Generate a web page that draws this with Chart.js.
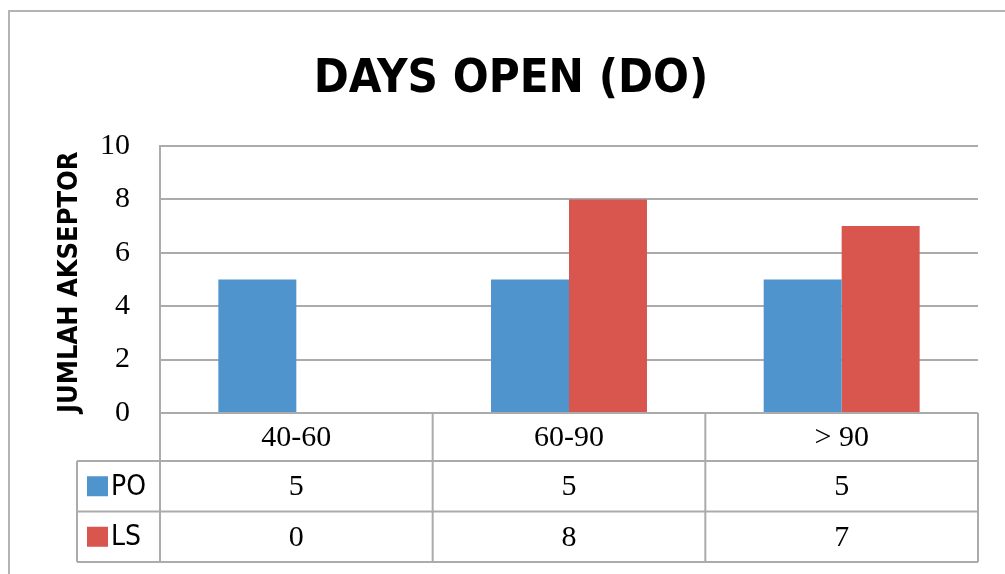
<!DOCTYPE html>
<html>
<head>
<meta charset="utf-8">
<script src="https://cdn.jsdelivr.net/npm/chart.js@4"></script>
<style>
  body { margin: 0; background: #fff; }
  canvas { display: block; }
</style>
</head>
<body>
<canvas id="doChart" width="1005" height="574"></canvas>
<script>
// chart data
const categories = ['40-60', '60-90', '> 90'];
const seriesNames = ['PO', 'LS'];
const poValues = [5, 5, 5];
const lsValues = [0, 8, 7];
const yTicks = [0, 2, 4, 6, 8, 10];

const BLUE = '#4F94CD';
const RED = '#D9564F';
const GRID = '#ABABAB';
const SANS = "'Liberation Sans Narrow', 'DejaVu Sans Condensed', sans-serif";
const SERIF = "'Liberation Serif', 'DejaVu Serif', serif";

// draws the outer frame and the Excel style data table under the plot
const dataTablePlugin = {
  id: 'dataTable',
  beforeDraw(chart) {
    const ctx = chart.ctx;
    ctx.save();
    ctx.strokeStyle = '#B4B4B4';
    ctx.lineWidth = 2;
    ctx.beginPath();
    ctx.moveTo(9, chart.height + 5);
    ctx.lineTo(9, 11);
    ctx.lineTo(chart.width + 5, 11);
    ctx.stroke();
    ctx.restore();
  },
  afterDraw(chart) {
    const ctx = chart.ctx;
    const area = chart.chartArea;
    const x = chart.scales.x;
    const colW = (area.right - area.left) / categories.length;
    const headH = 48;
    const rowH = 50.5;
    const legendLeft = 77;
    const top = area.bottom;
    const rowsTop = top + headH;
    const bottom = rowsTop + rowH * seriesNames.length;
    const rows = [poValues, lsValues];
    const colors = [BLUE, RED];

    ctx.save();
    ctx.strokeStyle = GRID;
    ctx.lineWidth = 2;
    ctx.beginPath();
    // axis / top line of the table
    ctx.moveTo(area.left, top);
    ctx.lineTo(area.right, top);
    for (let r = 0; r <= seriesNames.length; r++) {
      const yy = rowsTop + r * rowH;
      ctx.moveTo(legendLeft, yy);
      ctx.lineTo(area.right, yy);
    }
    for (let c = 0; c <= categories.length; c++) {
      const xx = area.left + c * colW;
      ctx.moveTo(xx, top);
      ctx.lineTo(xx, bottom);
    }
    ctx.moveTo(legendLeft, rowsTop);
    ctx.lineTo(legendLeft, bottom);
    ctx.stroke();

    ctx.fillStyle = '#000';
    ctx.textAlign = 'center';
    ctx.textBaseline = 'middle';
    ctx.font = '30px ' + SERIF;
    categories.forEach((cat, i) => {
      const cx = x.getPixelForValue(i);
      ctx.fillText(cat, cx, top + headH / 2 + 1);
      rows.forEach((vals, r) => {
        ctx.fillText(String(vals[i]), cx, rowsTop + r * rowH + rowH / 2 + 1);
      });
    });

    // legend keys inside the table
    ctx.textAlign = 'left';
    ctx.font = '28px ' + SANS;
    seriesNames.forEach((name, r) => {
      const cy = rowsTop + r * rowH + rowH / 2;
      ctx.fillStyle = colors[r];
      ctx.fillRect(87, cy - 10, 21, 20);
      ctx.fillStyle = '#000';
      ctx.fillText(name, 111, cy + 1);
    });
    ctx.restore();
  }
};

new Chart(document.getElementById('doChart'), {
  type: 'bar',
  data: {
    labels: categories,
    datasets: [
      { label: seriesNames[0], data: poValues, backgroundColor: BLUE },
      { label: seriesNames[1], data: lsValues, backgroundColor: RED }
    ]
  },
  options: {
    responsive: false,
    animation: false,
    devicePixelRatio: 1,
    layout: { padding: { left: 17, top: 0, right: 0, bottom: 161 } },
    datasets: {
      bar: { categoryPercentage: 0.572, barPercentage: 1, borderWidth: 0 }
    },
    plugins: {
      legend: { display: false },
      tooltip: { enabled: false },
      title: {
        display: true,
        text: 'DAYS OPEN (DO)',
        color: '#000',
        font: { family: SANS, size: 47, weight: 'bold' },
        padding: { top: 52, bottom: 37.6 }
      }
    },
    scales: {
      x: { display: false },
      y: {
        min: 0,
        max: 10,
        afterBuildTicks: (scale) => { scale.ticks = yTicks.map(v => ({ value: v })); },
        afterFit: (scale) => { scale.width = 143; },
        ticks: {
          color: '#000',
          padding: 30,
          font: { family: SERIF, size: 30 }
        },
        grid: { color: GRID, lineWidth: 2, drawTicks: false },
        border: { display: true, color: GRID, width: 2 },
        title: {
          display: true,
          text: 'JUMLAH AKSEPTOR',
          align: 'start',
          color: '#000',
          font: { family: SANS, size: 27, weight: 'bold' },
          padding: { top: 37, bottom: 0 }
        }
      },
      // empty spacer axis on the right, keeps the plot edge at the table edge
      yRight: {
        position: 'right',
        display: true,
        afterFit: (scale) => { scale.width = 27; },
        ticks: { display: false },
        grid: { display: false },
        border: { display: false }
      }
    }
  },
  plugins: [dataTablePlugin]
});
</script>
</body>
</html>
